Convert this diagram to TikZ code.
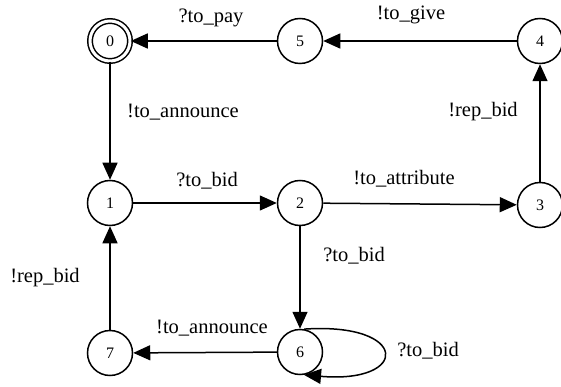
\documentclass[tikz,border=0pt]{standalone}
\usepackage{fontspec}
\setmainfont{Liberation Serif}
\usetikzlibrary{arrows.meta,calc}
\begin{document}
\begin{tikzpicture}[x=1pt,y=-1pt,
  state/.style={draw,circle,line width=1.5pt,minimum size=45pt,inner sep=0pt,font=\fontsize{16}{16}\selectfont},
  accept/.style={state,double,double distance=3pt,minimum size=40pt},
  arr/.style={line width=1.5pt,-{Triangle[length=17pt,width=15pt]}},
  lbl/.style={font=\fontsize{20.5}{20.5}\selectfont,inner sep=0pt}]
\useasboundingbox (0,0) rectangle (561,387);
\node[accept] (s0) at (110,41) {0};
\node[state] (s5) at (300,41) {5};
\node[state] (s4) at (540,41) {4};
\node[state] (s1) at (110,203) {1};
\node[state] (s2) at (300,203) {2};
\node[state] (s3) at (540,205) {3};
\node[state] (s6) at (300,352) {6};
\node[state] (s7) at (110,353) {7};
\draw[arr] (s5) -- (s0);
\draw[arr] (s4) -- (s5);
\draw[arr] (s0) -- (s1);
\draw[arr] (s3) -- (s4);
\draw[arr] (s1) -- (s2);
\draw[arr] (s2) -- (s3);
\draw[arr] (s2) -- (s6);
\draw[arr] (s7) -- (s1);
\draw[arr] (s6) -- (s7);
\draw[arr] (s6.80) .. controls ($(s6)+(110,-30)$) and ($(s6)+(110,32)$) .. (s6.-80);
\node[lbl] (l50) at (211,18) {?to\_pay};
\node[lbl] (l45) at (411,15) {!to\_give};
\node[lbl] (l01) at (183,112) {!to\_announce};
\node[lbl] (l34) at (483,112) {!rep\_bid};
\node[lbl] (l12) at (207,181) {?to\_bid};
\node[lbl] (l23) at (404,179) {!to\_attribute};
\node[lbl] (l26) at (354,256) {?to\_bid};
\node[lbl] (l71) at (45,278) {!rep\_bid};
\node[lbl] (l67) at (212,328) {!to\_announce};
\node[lbl] (l66) at (428,351) {?to\_bid};
\end{tikzpicture}
\end{document}
